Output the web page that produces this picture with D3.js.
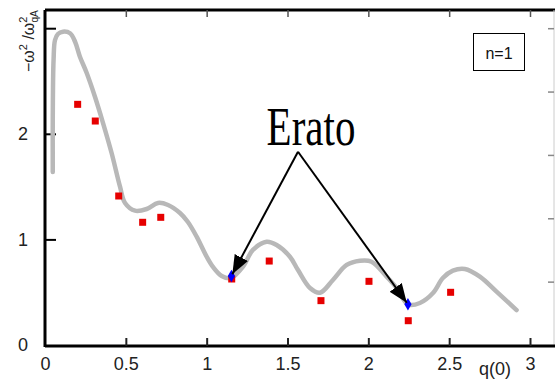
<!DOCTYPE html>
<html>
<head>
<meta charset="utf-8">
<script src="https://cdn.jsdelivr.net/npm/d3@7"></script>
<style>
  html, body { margin: 0; padding: 0; background: #fff; }
  svg { display: block; }
  text { font-family: "Liberation Sans", Arial, sans-serif; }
</style>
</head>
<body>
<svg id="chart" width="555" height="383"></svg>
<script>
// Dispersion curve (grey) along q(0)
const curveX = [0.048, 0.048, 0.053, 0.062, 0.080, 0.111, 0.155, 0.186, 0.216, 0.258, 0.309, 0.359, 0.412, 0.464, 0.495, 0.557, 0.629, 0.699, 0.761, 0.835, 0.884, 0.938, 1.000, 1.039, 1.093, 1.150, 1.224, 1.286, 1.371, 1.433, 1.515, 1.565, 1.639, 1.701, 1.781, 1.866, 1.948, 2.020, 2.113, 2.175, 2.245, 2.319, 2.400, 2.461, 2.523, 2.597, 2.690, 2.793, 2.917];
const curveY = [1.638, 2.131, 2.699, 2.888, 2.945, 2.967, 2.952, 2.872, 2.730, 2.576, 2.351, 2.102, 1.818, 1.499, 1.345, 1.272, 1.288, 1.345, 1.326, 1.250, 1.165, 1.026, 0.836, 0.739, 0.653, 0.634, 0.741, 0.900, 0.978, 0.947, 0.836, 0.710, 0.540, 0.495, 0.616, 0.758, 0.798, 0.789, 0.647, 0.540, 0.385, 0.398, 0.492, 0.634, 0.704, 0.720, 0.647, 0.505, 0.331];

// Measured points (red squares)
const measX = [0.202, 0.311, 0.456, 0.604, 0.716, 1.155, 1.387, 1.707, 2.004, 2.247, 2.509];
const measY = [2.279, 2.121, 1.411, 1.162, 1.209, 0.625, 0.795, 0.420, 0.603, 0.230, 0.499];

// Erato points (blue diamonds)
const eratoX = [1.153, 2.245];
const eratoY = [0.653, 0.385];

// Annotation anchor (where the arrows start)
const arrowFrom = [1.565, 1.83];

// Axis ticks
const xTicks = [0, 0.5, 1, 1.5, 2, 2.5, 3];
const xTickLabels = ["0", "0.5", "1", "1.5", "2", "2.5", "3"];
const yTicks = [0, 1, 2, 3];
const yTickLabels = ["0", "1", "2", ""];
const rightTicks = [0.6, 1.2, 1.8, 2.4, 3.0];

const svg = d3.select("#chart");

const x = d3.scaleLinear().domain([0, 3]).range([45, 530]);
const y = d3.scaleLinear().domain([0, 3]).range([345, 28.2]);

// Frame
svg.append("line").attr("x1", 45).attr("x2", 555).attr("y1", 10).attr("y2", 10)
  .attr("stroke", "#000").attr("stroke-width", 3);
svg.append("line").attr("x1", 554).attr("x2", 554).attr("y1", 10).attr("y2", 346)
  .attr("stroke", "#ccc").attr("stroke-width", 1);

// Bottom axis (ticks point inward)
const xAxis = d3.axisBottom(x).tickValues(xTicks)
  .tickFormat((d, i) => xTickLabels[i]).tickSize(-8).tickPadding(11);
const gx = svg.append("g").attr("transform", "translate(0,346)").call(xAxis);
gx.select(".domain").attr("d", "M45,0H555").attr("stroke", "#000").attr("stroke-width", 3);
gx.selectAll(".tick line").attr("stroke", "#222").attr("stroke-width", 2);
gx.selectAll(".tick text").attr("font-size", 18).attr("fill", "#222");
gx.selectAll(".tick").filter(d => d === 0).select("line").remove();

// Top ticks
const xTop = d3.axisTop(x).tickValues(xTicks.slice(1)).tickFormat("").tickSize(-7);
const gt = svg.append("g").attr("transform", "translate(0,10)").call(xTop);
gt.select(".domain").remove();
gt.selectAll(".tick line").attr("stroke", "#555").attr("stroke-width", 1.5);

// Left axis (ticks point inward)
const yAxis = d3.axisLeft(y).tickValues(yTicks)
  .tickFormat((d, i) => yTickLabels[i]).tickSize(-11).tickPadding(17);
const gy = svg.append("g").attr("transform", "translate(45,0)").call(yAxis);
gy.select(".domain").attr("d", "M0,10V347").attr("stroke", "#000").attr("stroke-width", 3);
gy.selectAll(".tick line").attr("stroke", "#000").attr("stroke-width", 2);
gy.selectAll(".tick text").attr("font-size", 18).attr("fill", "#222");
gy.selectAll(".tick").filter(d => d === 0).select("line").remove();

// Right-hand ticks
const yRight = d3.axisRight(y).tickValues(rightTicks).tickFormat("").tickSize(-6);
const gr = svg.append("g").attr("transform", "translate(554,0)").call(yRight);
gr.select(".domain").remove();
gr.selectAll(".tick line").attr("stroke", "#888").attr("stroke-width", 1.5);

// Axis titles
svg.append("text").attr("x", 495).attr("y", 375).attr("text-anchor", "middle")
  .attr("font-size", 18).attr("fill", "#222").text("q(0)");

const yl = svg.append("text")
  .attr("transform", "translate(34,72) rotate(-90)")
  .attr("font-size", 16).attr("fill", "#222");
yl.append("tspan").text("−ω");
yl.append("tspan").attr("font-size", 11).attr("dy", -7).text("2");
yl.append("tspan").attr("dy", 7).text(" /ω");
yl.append("tspan").attr("font-size", 11).attr("dy", -7).text("2");
yl.append("tspan").attr("font-size", 10).attr("dx", -6).attr("dy", 11).text("qA");

// Grey curve
const pts = curveX.map((d, i) => [d, curveY[i]]);
const line = d3.line().x(d => x(d[0])).y(d => y(d[1])).curve(d3.curveCatmullRom.alpha(0.5));
svg.append("path").datum(pts).attr("d", line)
  .attr("fill", "none").attr("stroke", "#b8b8b8").attr("stroke-width", 4.5)
  .attr("stroke-linejoin", "round").attr("stroke-linecap", "round");

// Red squares
svg.append("g").selectAll("rect").data(measX).join("rect")
  .attr("x", (d) => x(d) - 3.5).attr("y", (d, i) => y(measY[i]) - 3.5)
  .attr("width", 7).attr("height", 7).attr("fill", "#e60000");

// Blue diamonds
svg.append("g").selectAll("path").data(eratoX).join("path")
  .attr("d", d3.symbol().type(d3.symbolDiamond).size(45))
  .attr("transform", (d, i) => `translate(${x(d)},${y(eratoY[i])})`)
  .attr("fill", "#0000ff");

// Arrows to the Erato points
const defs = svg.append("defs");
defs.append("marker").attr("id", "head").attr("viewBox", "0 0 19 15")
  .attr("refX", 19).attr("refY", 7.5).attr("markerWidth", 19).attr("markerHeight", 15)
  .attr("markerUnits", "userSpaceOnUse").attr("orient", "auto")
  .append("path").attr("d", "M0,0L19,7.5L0,15Z").attr("fill", "#000");

const ax0 = x(arrowFrom[0]), ay0 = y(arrowFrom[1]);
eratoX.forEach((d, i) => {
  const tx = x(d), ty = y(eratoY[i]);
  const dx = tx - ax0, dy = ty - ay0, len = Math.hypot(dx, dy);
  const stop = 2;
  svg.append("line").attr("x1", ax0).attr("y1", ay0)
    .attr("x2", tx - dx / len * stop).attr("y2", ty - dy / len * stop)
    .attr("stroke", "#000").attr("stroke-width", 2)
    .attr("marker-end", "url(#head)");
});

// "Erato" label
svg.append("text").attr("transform", "translate(311,145) scale(1,1.36)")
  .attr("text-anchor", "middle")
  .style("font-family", "'Liberation Serif', 'Times New Roman', serif")
  .attr("font-size", 41).attr("fill", "#000").text("Erato");

// n=1 box
svg.append("rect").attr("x", 473.5).attr("y", 33.5).attr("width", 51).attr("height", 37)
  .attr("fill", "none").attr("stroke", "#000").attr("stroke-width", 1);
svg.append("text").attr("x", 499).attr("y", 59).attr("text-anchor", "middle")
  .attr("font-size", 16).attr("fill", "#111").text("n=1");
</script>
</body>
</html>
